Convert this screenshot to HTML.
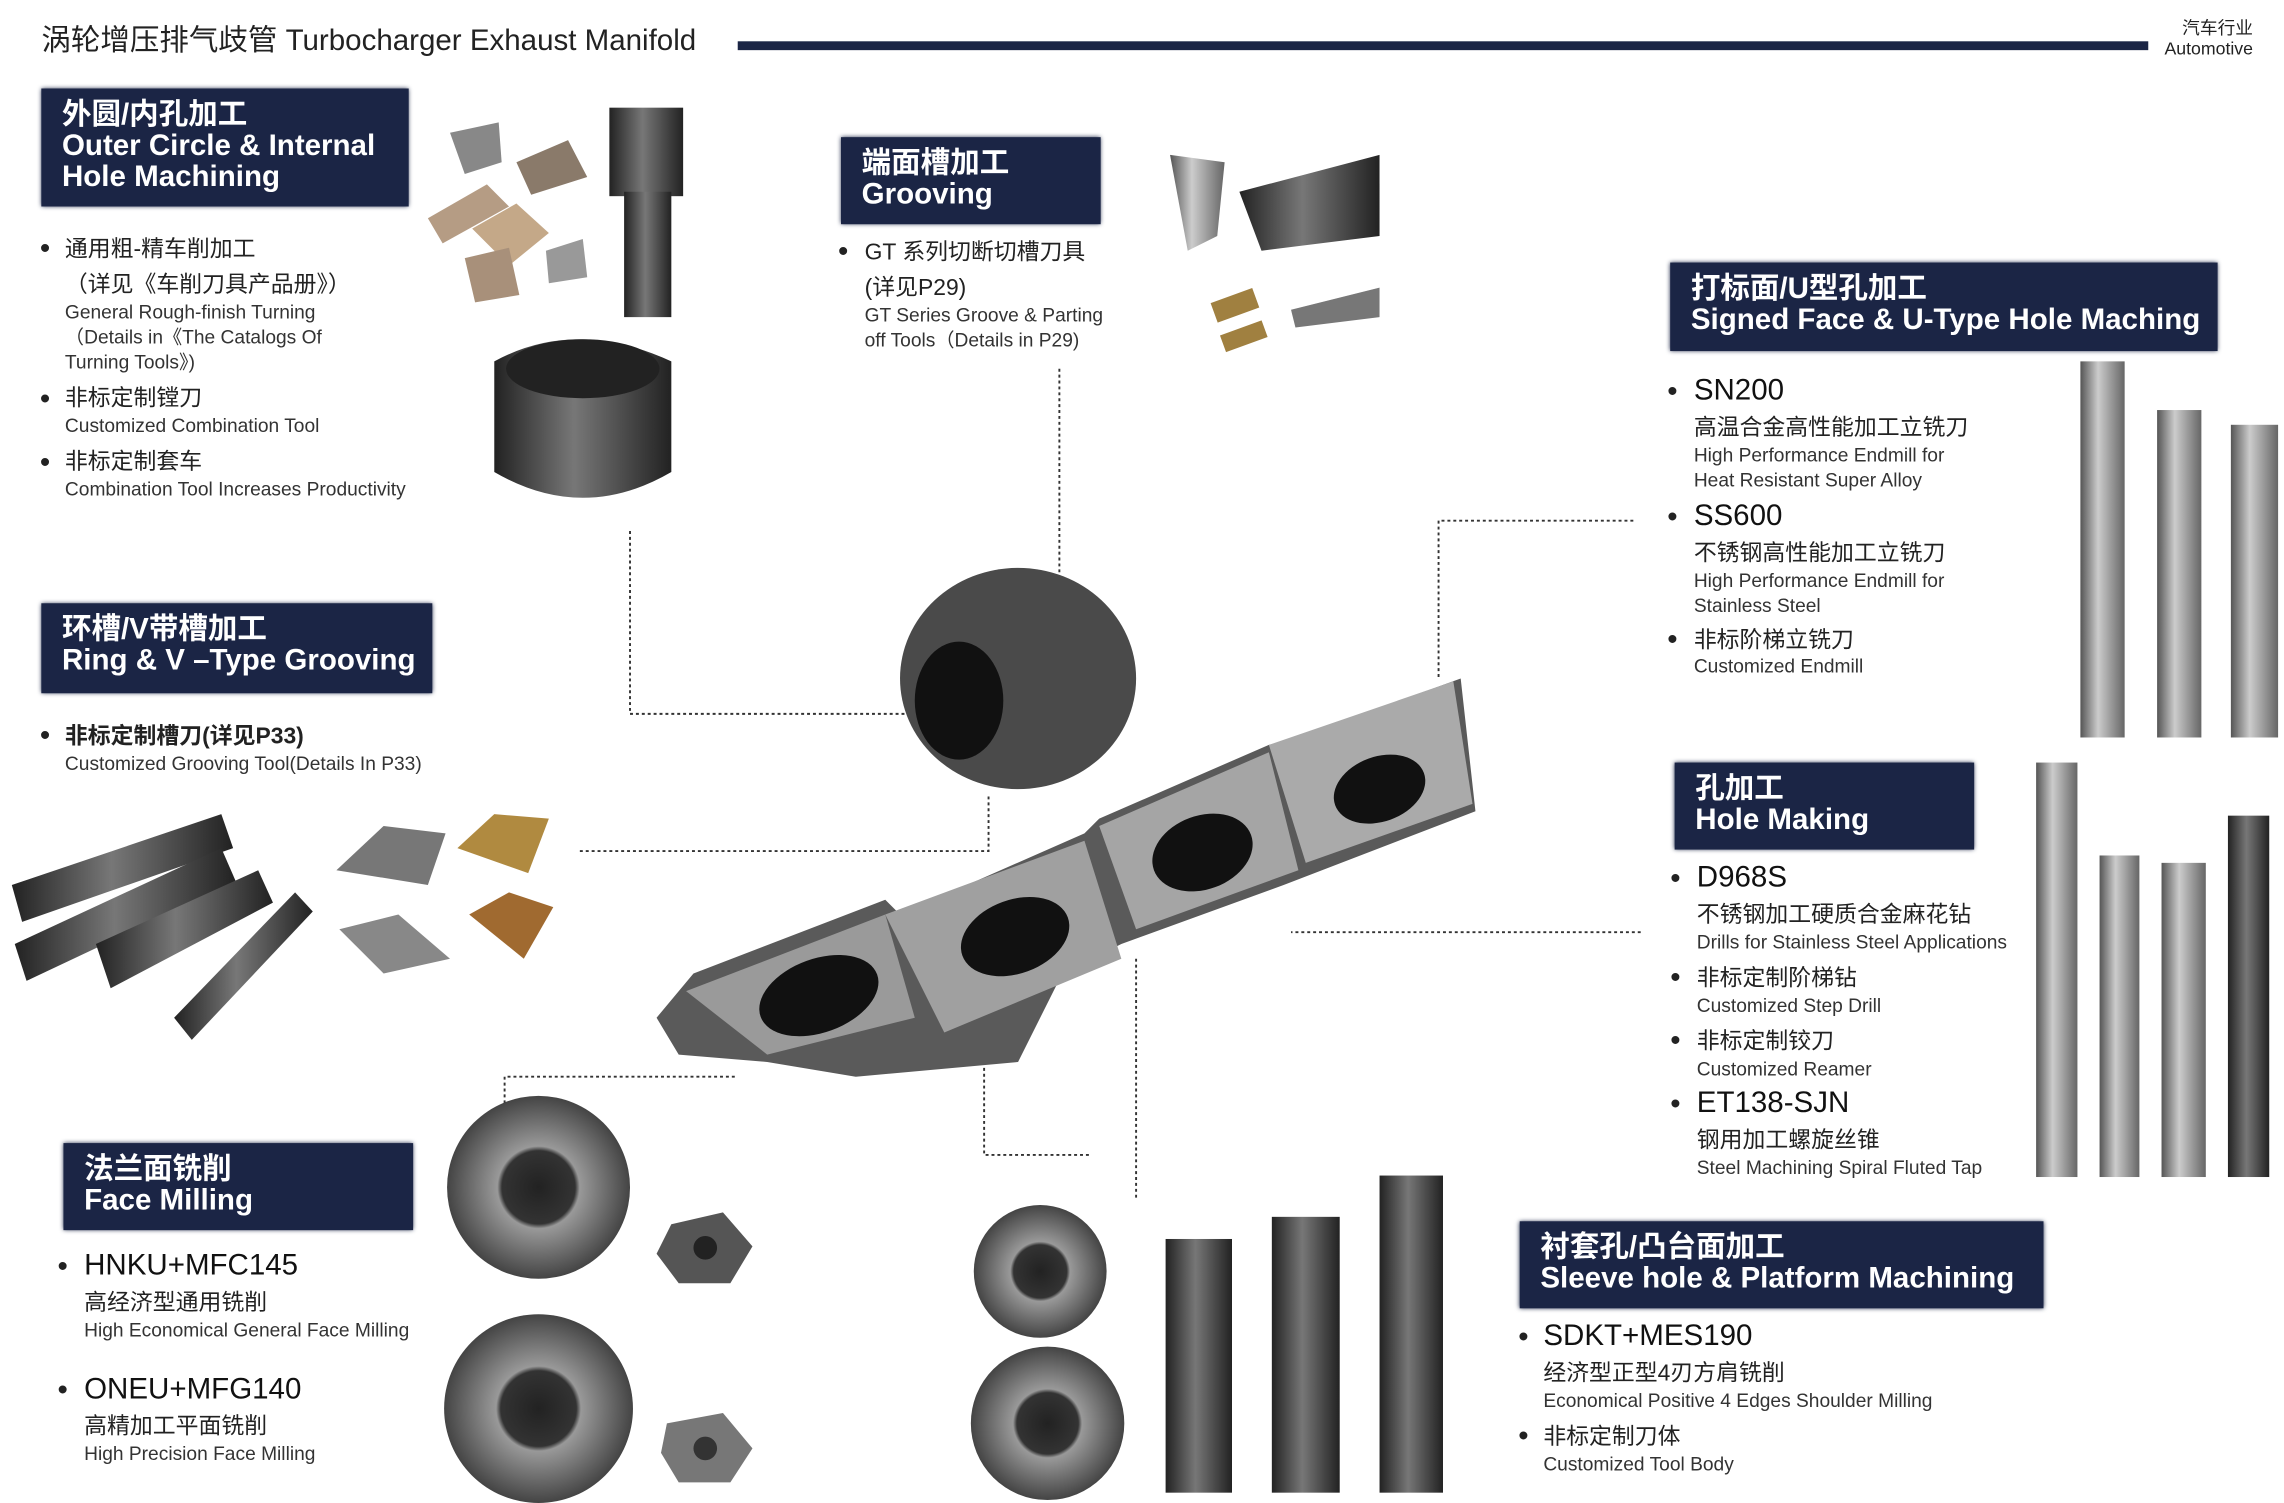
<!DOCTYPE html>
<html><head><meta charset="utf-8"><style>
html,body{margin:0;padding:0;background:#fff;width:2284px;height:1503px;overflow:hidden}
#c{position:absolute;left:0;top:0;width:1548px;height:1019px;transform-origin:0 0;transform:scale(1.47545,1.47497);font-family:"Liberation Sans","Noto Sans CJK SC",sans-serif;color:#222}
.t{position:absolute;white-space:nowrap;line-height:1}
.h{position:absolute;background:#1b2545;color:#fff;font-weight:bold;font-size:20px;line-height:21px;padding:8px 0 0 14px;box-sizing:border-box;box-shadow:0 0 3px #1b2545;font-family:"Liberation Sans","Noto Sans CJK SC",sans-serif}
.cn{font-size:15.5px;color:#222}
.en{font-size:13px;color:#333}
.pn{font-size:20px;color:#111}
.b{position:absolute;font-size:20px;line-height:1}
svg{position:absolute;left:0;top:0}
</style></head><body><div id="c">
<svg width="1548" height="1019" viewBox="0 0 1548 1019">
<defs>
<linearGradient id="g" x1="0" x2="1"><stop offset="0" stop-color="#555"/><stop offset=".4" stop-color="#ccc"/><stop offset="1" stop-color="#666"/></linearGradient>
<linearGradient id="d" x1="0" x2="1"><stop offset="0" stop-color="#222"/><stop offset=".45" stop-color="#777"/><stop offset="1" stop-color="#222"/></linearGradient>
<radialGradient id="r"><stop offset="0" stop-color="#222"/><stop offset=".4" stop-color="#333"/><stop offset=".45" stop-color="#999"/><stop offset="1" stop-color="#444"/></radialGradient>
</defs>
<rect x="500" y="28" width="956" height="6" fill="#1b2545"/>
<g fill="none" stroke="#333" stroke-width="1.3" stroke-dasharray="2,2">
<polyline points="427,360 427,484 625,484"/>
<polyline points="718,250 718,410"/>
<polyline points="1107,353 975,353 975,460"/>
<polyline points="393,577 670,577 670,540"/>
<polyline points="1112,632 875,632"/>
<polyline points="342,760 342,730 500,730"/>
<polyline points="667,700 667,783 738,783"/>
<polyline points="770,650 770,812"/>
</g>
<g fill="#8a7a6a"><polygon points="305,90 338,83 340,110 315,118" fill="#888"/><polygon points="290,148 330,125 345,140 300,165" fill="#b59c84"/><polygon points="320,155 350,138 372,158 345,180" fill="#c4a888"/><polygon points="350,110 385,95 398,120 360,132"/><polygon points="315,175 345,168 352,200 322,205" fill="#a8907a"/><polygon points="370,170 395,162 398,188 372,192" fill="#999"/></g>
<rect x="413" y="73" width="50" height="60" fill="url(#d)"/><rect x="423" y="130" width="32" height="85" fill="url(#d)"/>
<path d="M335,245 Q390,215 455,245 L455,320 Q395,355 335,320 Z" fill="url(#d)"/><ellipse cx="395" cy="250" rx="52" ry="20" fill="#222"/>
<polygon points="793,105 830,110 825,160 805,170" fill="url(#g)"/><polygon points="840,130 935,105 935,160 855,170" fill="url(#d)"/><polygon points="875,210 935,195 935,215 878,222" fill="#777"/><rect x="822" y="200" width="30" height="14" fill="#a08040" transform="rotate(-20 837 207)"/><rect x="828" y="222" width="30" height="12" fill="#a08040" transform="rotate(-20 843 228)"/>
<rect x="1410" y="245" width="30" height="255" fill="url(#g)"/><rect x="1462" y="278" width="30" height="222" fill="url(#g)"/><rect x="1512" y="288" width="32" height="212" fill="url(#g)"/>
<rect x="1380" y="517" width="28" height="281" fill="url(#g)"/><rect x="1423" y="580" width="27" height="218" fill="url(#g)"/><rect x="1465" y="585" width="30" height="213" fill="url(#g)"/><rect x="1510" y="553" width="28" height="245" fill="url(#d)"/>
<g fill="url(#d)"><polygon points="8,600 150,552 158,575 15,625"/><polygon points="10,640 150,575 160,598 18,665"/><polygon points="65,640 175,590 185,612 75,670"/><polygon points="118,690 200,605 212,618 130,705"/></g>
<g><polygon points="228,590 260,560 302,565 290,600" fill="#777"/><polygon points="310,575 335,552 372,555 358,592" fill="#b08a40"/><polygon points="230,630 270,620 305,650 260,660" fill="#888"/><polygon points="318,620 345,605 375,615 355,650" fill="#a06a30"/></g>
<g>
<ellipse cx="690" cy="460" rx="80" ry="75" fill="#4a4a4a"/><ellipse cx="650" cy="475" rx="30" ry="40" fill="#111"/>
<polygon points="445,690 470,660 600,610 610,620 735,565 745,555 860,505 880,500 990,460 1000,550 870,600 760,640 720,660 690,720 580,730 520,720 460,715" fill="#5a5a5a"/>
<polygon points="465,672 600,620 620,690 520,715" fill="#9a9a9a"/><ellipse cx="555" cy="675" rx="42" ry="25" fill="#111" transform="rotate(-20 555 675)"/>
<polygon points="600,620 735,570 760,650 640,700" fill="#a0a0a0"/><ellipse cx="688" cy="635" rx="38" ry="25" fill="#111" transform="rotate(-20 688 635)"/>
<polygon points="745,560 860,510 880,590 770,630" fill="#a5a5a5"/><ellipse cx="815" cy="578" rx="35" ry="25" fill="#111" transform="rotate(-20 815 578)"/>
<polygon points="860,505 985,462 998,545 885,585" fill="#aaa"/><ellipse cx="935" cy="535" rx="32" ry="22" fill="#111" transform="rotate(-20 935 535)"/>
</g>
<circle cx="365" cy="805" r="62" fill="url(#r)"/><polygon points="455,830 490,822 510,845 495,870 460,870 445,850" fill="#555"/><circle cx="478" cy="846" r="8" fill="#222"/>
<circle cx="365" cy="955" r="64" fill="url(#r)"/><polygon points="452,965 490,958 510,982 495,1005 460,1005 448,985" fill="#777"/><circle cx="478" cy="982" r="8" fill="#333"/>
<circle cx="705" cy="862" r="45" fill="url(#r)"/><circle cx="710" cy="965" r="52" fill="url(#r)"/>
<rect x="790" y="840" width="45" height="172" fill="url(#d)"/><rect x="862" y="825" width="46" height="187" fill="url(#d)"/><rect x="935" y="797" width="43" height="215" fill="url(#d)"/>
</svg>

<div class="t" style="left:28px;top:18px;font-size:20px;color:#222">涡轮增压排气歧管 Turbocharger Exhaust Manifold</div>
<div class="t" style="right:21px;top:12px;font-size:12px;text-align:right;line-height:14px">汽车行业<br>Automotive</div>

<div class="h" style="left:28px;top:60px;width:249px;height:80px">外圆/内孔加工<br>Outer Circle &amp; Internal<br>Hole Machining</div>
<div class="h" style="left:570px;top:93px;width:176px;height:59px">端面槽加工<br>Grooving</div>
<div class="h" style="left:1132px;top:178px;width:371px;height:60px">打标面/U型孔加工<br>Signed Face &amp; U-Type Hole Maching</div>
<div class="h" style="left:28px;top:409px;width:265px;height:61px">环槽/V带槽加工<br>Ring &amp; V –Type Grooving</div>
<div class="h" style="left:1135px;top:517px;width:203px;height:59px">孔加工<br>Hole Making</div>
<div class="h" style="left:43px;top:775px;width:237px;height:59px">法兰面铣削<br>Face Milling</div>
<div class="h" style="left:1030px;top:828px;width:355px;height:59px">衬套孔/凸台面加工<br>Sleeve hole &amp; Platform Machining</div>

<div class="b" style="left:27px;top:159px">•</div><div class="b" style="left:27px;top:261px">•</div><div class="b" style="left:27px;top:304px">•</div>
<div class="t cn" style="left:44px;top:162px">通用粗-精车削加工</div>
<div class="t cn" style="left:44px;top:186px">（详见《车削刀具产品册》）</div>
<div class="t en" style="left:44px;top:205px">General Rough-finish Turning</div>
<div class="t en" style="left:44px;top:222px">（Details in《The Catalogs Of</div>
<div class="t en" style="left:44px;top:239px">Turning Tools》)</div>
<div class="t cn" style="left:44px;top:263px">非标定制镗刀</div>
<div class="t en" style="left:44px;top:282px">Customized Combination Tool</div>
<div class="t cn" style="left:44px;top:306px">非标定制套车</div>
<div class="t en" style="left:44px;top:325px">Combination Tool Increases Productivity</div>

<div class="b" style="left:568px;top:161px">•</div>
<div class="t cn" style="left:586px;top:164px">GT 系列切断切槽刀具</div>
<div class="t cn" style="left:586px;top:188px">(详见P29)</div>
<div class="t en" style="left:586px;top:207px">GT Series Groove &amp; Parting</div>
<div class="t en" style="left:586px;top:224px">off Tools（Details in P29)</div>

<div class="b" style="left:1130px;top:256px">•</div><div class="b" style="left:1130px;top:341px">•</div><div class="b" style="left:1130px;top:424px">•</div>
<div class="t pn" style="left:1148px;top:255px">SN200</div>
<div class="t cn" style="left:1148px;top:283px">高温合金高性能加工立铣刀</div>
<div class="t en" style="left:1148px;top:302px">High Performance Endmill for</div>
<div class="t en" style="left:1148px;top:319px">Heat Resistant Super Alloy</div>
<div class="t pn" style="left:1148px;top:340px">SS600</div>
<div class="t cn" style="left:1148px;top:368px">不锈钢高性能加工立铣刀</div>
<div class="t en" style="left:1148px;top:387px">High Performance Endmill for</div>
<div class="t en" style="left:1148px;top:404px">Stainless Steel</div>
<div class="t cn" style="left:1148px;top:427px">非标阶梯立铣刀</div>
<div class="t en" style="left:1148px;top:445px">Customized Endmill</div>

<div class="b" style="left:27px;top:489px">•</div>
<div class="t cn" style="left:44px;top:492px;font-weight:bold">非标定制槽刀(详见P33)</div>
<div class="t en" style="left:44px;top:511px">Customized Grooving Tool(Details In P33)</div>

<div class="b" style="left:1132px;top:586px">•</div><div class="b" style="left:1132px;top:653px">•</div><div class="b" style="left:1132px;top:696px">•</div><div class="b" style="left:1132px;top:739px">•</div>
<div class="t pn" style="left:1150px;top:585px">D968S</div>
<div class="t cn" style="left:1150px;top:613px">不锈钢加工硬质合金麻花钻</div>
<div class="t en" style="left:1150px;top:632px">Drills for Stainless Steel Applications</div>
<div class="t cn" style="left:1150px;top:656px">非标定制阶梯钻</div>
<div class="t en" style="left:1150px;top:675px">Customized Step Drill</div>
<div class="t cn" style="left:1150px;top:699px">非标定制铰刀</div>
<div class="t en" style="left:1150px;top:718px">Customized Reamer</div>
<div class="t pn" style="left:1150px;top:738px">ET138-SJN</div>
<div class="t cn" style="left:1150px;top:766px">钢用加工螺旋丝锥</div>
<div class="t en" style="left:1150px;top:785px">Steel Machining Spiral Fluted Tap</div>

<div class="b" style="left:39px;top:849px">•</div><div class="b" style="left:39px;top:933px">•</div>
<div class="t pn" style="left:57px;top:848px">HNKU+MFC145</div>
<div class="t cn" style="left:57px;top:876px">高经济型通用铣削</div>
<div class="t en" style="left:57px;top:895px">High Economical General Face Milling</div>
<div class="t pn" style="left:57px;top:932px">ONEU+MFG140</div>
<div class="t cn" style="left:57px;top:960px">高精加工平面铣削</div>
<div class="t en" style="left:57px;top:979px">High Precision Face Milling</div>

<div class="b" style="left:1029px;top:897px">•</div><div class="b" style="left:1029px;top:964px">•</div>
<div class="t pn" style="left:1046px;top:896px">SDKT+MES190</div>
<div class="t cn" style="left:1046px;top:924px">经济型正型4刃方肩铣削</div>
<div class="t en" style="left:1046px;top:943px">Economical Positive 4 Edges Shoulder Milling</div>
<div class="t cn" style="left:1046px;top:967px">非标定制刀体</div>
<div class="t en" style="left:1046px;top:986px">Customized Tool Body</div>
</div></body></html>
